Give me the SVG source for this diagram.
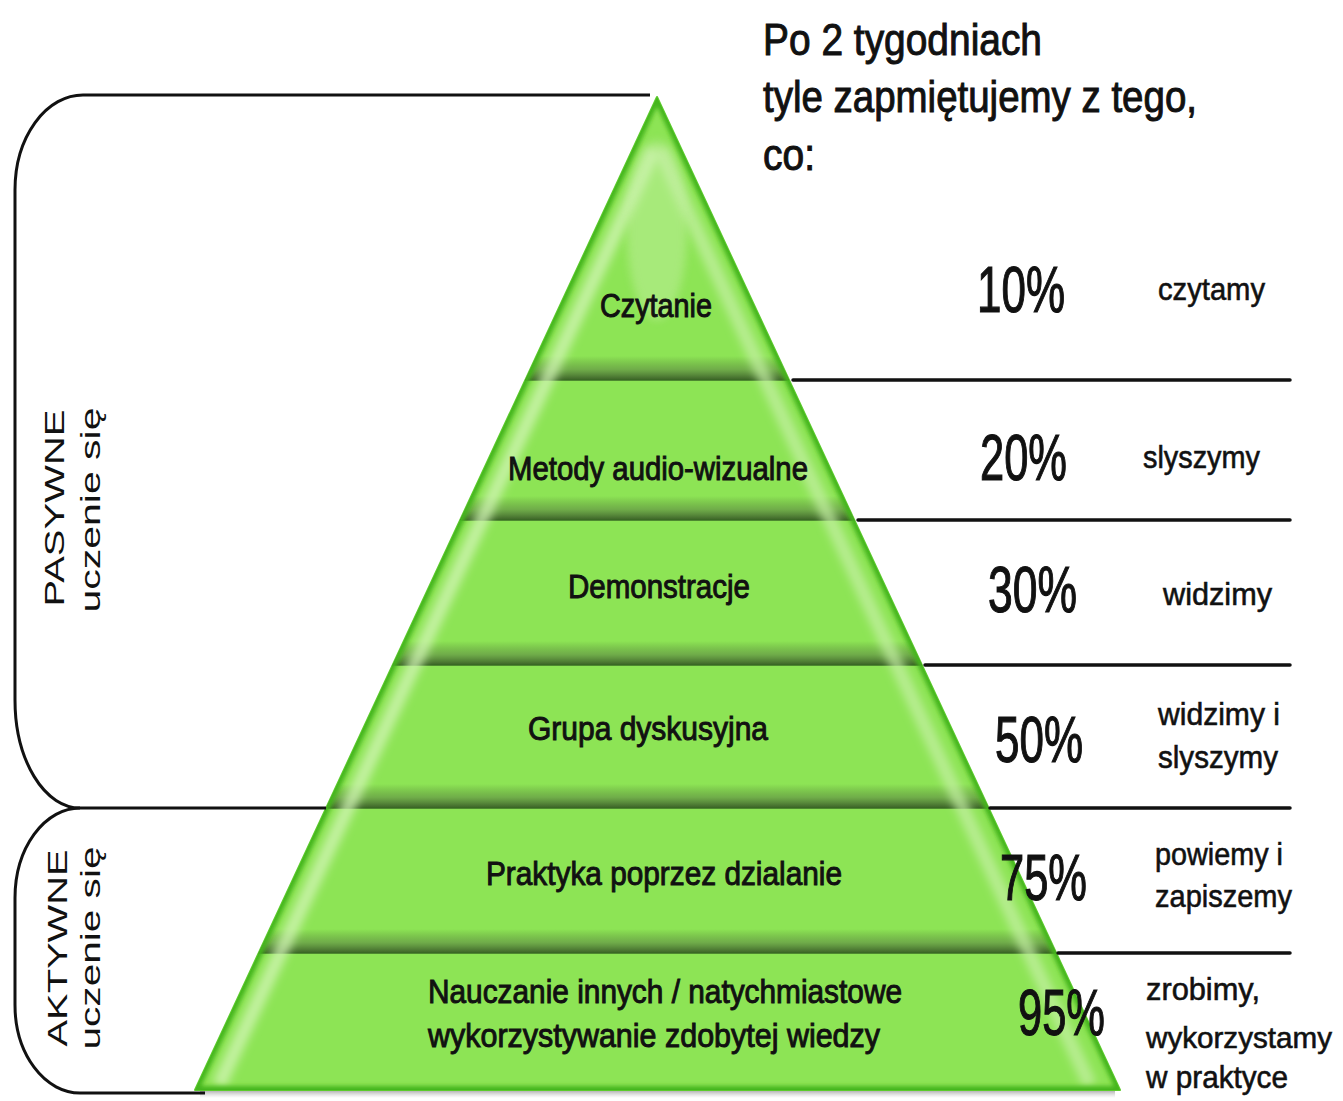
<svg xmlns="http://www.w3.org/2000/svg" width="1343" height="1101" viewBox="0 0 1343 1101">
  <style>
    .t { font-family: "Liberation Sans", Arial, sans-serif; fill: #111; }
    .lbl { font-size: 34px; stroke: #111; stroke-width: 1px; }
    .head { font-size: 44px; stroke: #111; stroke-width: 1px; }
    .pct { font-size: 64px; stroke: #111; stroke-width: 1.2px; }
    .word { font-size: 32px; stroke: #111; stroke-width: 0.6px; }
    .side { font-size: 27px; }
    .line { stroke: #111; stroke-width: 3.5; fill: none; stroke-linecap: round; }
    .brk { stroke: #111; stroke-width: 3; fill: none; }
  </style>
  <defs>
    <clipPath id="pyrClip">
      <path d="M657 97 L1120 1090 L195 1090 Z"/>
    </clipPath>
    <linearGradient id="bandShade" x1="0" y1="0" x2="0" y2="1">
      <stop offset="0" stop-color="#3c5a2a" stop-opacity="0"/>
      <stop offset="0.55" stop-color="#4d6b3c" stop-opacity="0.45"/>
      <stop offset="1" stop-color="#2c4a1e" stop-opacity="0.85"/>
    </linearGradient>
    <linearGradient id="shadow" x1="0" y1="0" x2="0" y2="1">
      <stop offset="0" stop-color="#777" stop-opacity="0.9"/>
      <stop offset="1" stop-color="#bbb" stop-opacity="0"/>
    </linearGradient>
    <filter id="blur4" x="-20%" y="-20%" width="140%" height="140%">
      <feGaussianBlur stdDeviation="4"/>
    </filter>
    <filter id="blur2" x="-20%" y="-20%" width="140%" height="140%">
      <feGaussianBlur stdDeviation="2"/>
    </filter>
  </defs>

  <rect width="1343" height="1101" fill="#ffffff"/>

  <!-- shadow under base -->
  <rect x="200" y="1088" width="915" height="10" fill="url(#shadow)"/>

  <!-- pyramid body -->
  <g id="pyramid">
    <path d="M657 97 L1120 1090 L195 1090 Z" fill="#8de455" stroke="#5ccb2c" stroke-width="2" stroke-linejoin="round"/>
    <g clip-path="url(#pyrClip)">
      <rect x="150" y="356" width="1000" height="24" fill="url(#bandShade)"/>
      <rect x="150" y="496" width="1000" height="24" fill="url(#bandShade)"/>
      <rect x="150" y="641" width="1000" height="24" fill="url(#bandShade)"/>
      <rect x="150" y="784" width="1000" height="24" fill="url(#bandShade)"/>
      <rect x="150" y="929" width="1000" height="24" fill="url(#bandShade)"/>
      <g stroke="#3a6a25" stroke-width="1.5">
        <line x1="150" y1="380" x2="1150" y2="380"/>
        <line x1="150" y1="520" x2="1150" y2="520"/>
        <line x1="150" y1="665" x2="1150" y2="665"/>
        <line x1="150" y1="808" x2="1150" y2="808"/>
        <line x1="150" y1="953" x2="1150" y2="953"/>
      </g>
      <line x1="654" y1="150" x2="219" y2="1085" stroke="#d4f5b8" stroke-width="14" stroke-opacity="0.75" filter="url(#blur4)"/>
      <line x1="660" y1="150" x2="1090" y2="1085" stroke="#c8f1a8" stroke-width="14" stroke-opacity="0.7" filter="url(#blur4)"/>
      <ellipse cx="657" cy="230" rx="30" ry="90" fill="#c8f1a8" opacity="0.45" filter="url(#blur4)"/>
      <path d="M657 97 L1120 1090 L195 1090 Z" fill="none" stroke="#45b51c" stroke-width="8" stroke-linejoin="round" filter="url(#blur2)"/>
    </g>
  </g>

  <!-- connectors: separator lines and brackets -->
  <g id="connectors">
    <line class="line" x1="793" y1="380" x2="1290" y2="380"/>
    <line class="line" x1="858" y1="520" x2="1290" y2="520"/>
    <line class="line" x1="925" y1="665" x2="1290" y2="665"/>
    <line class="line" x1="990" y1="808" x2="1290" y2="808"/>
    <line class="line" x1="1058" y1="953" x2="1290" y2="953"/>
    <path class="brk" d="M650 95 L83 95 A68 95 0 0 0 15 190 L15 700 A65 108 0 0 0 80 808 L326 808"/>
    <path class="brk" d="M80 808 A65 90 0 0 0 15 898 L15 1005 A65 88 0 0 0 80 1093 L205 1093"/>
  </g>

  <!-- heading -->
  <g id="heading">
    <text class="t head" x="763" y="55" textLength="279" lengthAdjust="spacingAndGlyphs">Po 2 tygodniach</text>
    <text class="t head" x="763" y="112" textLength="434" lengthAdjust="spacingAndGlyphs">tyle zapmiętujemy z tego,</text>
    <text class="t head" x="763" y="170" textLength="52" lengthAdjust="spacingAndGlyphs">co:</text>
  </g>

  <!-- side labels -->
  <g id="pasywne">
    <text class="t side" transform="translate(64 508) rotate(-90)" text-anchor="middle" textLength="197" lengthAdjust="spacingAndGlyphs">PASYWNE</text>
    <text class="t side" transform="translate(100 510) rotate(-90)" text-anchor="middle" textLength="205" lengthAdjust="spacingAndGlyphs">uczenie się</text>
  </g>
  <g id="aktywne">
    <text class="t side" transform="translate(67 948) rotate(-90)" text-anchor="middle" textLength="197" lengthAdjust="spacingAndGlyphs">AKTYWNE</text>
    <text class="t side" transform="translate(100 948) rotate(-90)" text-anchor="middle" textLength="203" lengthAdjust="spacingAndGlyphs">uczenie się</text>
  </g>

  <!-- levels -->
  <g id="level1">
    <text class="t lbl" x="600" y="317" textLength="112" lengthAdjust="spacingAndGlyphs">Czytanie</text>
    <text class="t pct" x="977" y="312" textLength="88" lengthAdjust="spacingAndGlyphs">10%</text>
    <text class="t word" x="1158" y="300" textLength="107" lengthAdjust="spacingAndGlyphs">czytamy</text>
  </g>
  <g id="level2">
    <text class="t lbl" x="508" y="480" textLength="300" lengthAdjust="spacingAndGlyphs">Metody audio-wizualne</text>
    <text class="t pct" x="980" y="480" textLength="87" lengthAdjust="spacingAndGlyphs">20%</text>
    <text class="t word" x="1143" y="468" textLength="117" lengthAdjust="spacingAndGlyphs">slyszymy</text>
  </g>
  <g id="level3">
    <text class="t lbl" x="568" y="598" textLength="182" lengthAdjust="spacingAndGlyphs">Demonstracje</text>
    <text class="t pct" x="988" y="612" textLength="89" lengthAdjust="spacingAndGlyphs">30%</text>
    <text class="t word" x="1163" y="605" textLength="109" lengthAdjust="spacingAndGlyphs">widzimy</text>
  </g>
  <g id="level4">
    <text class="t lbl" x="528" y="740" textLength="240" lengthAdjust="spacingAndGlyphs">Grupa dyskusyjna</text>
    <text class="t pct" x="995" y="762" textLength="88" lengthAdjust="spacingAndGlyphs">50%</text>
    <text class="t word" x="1158" y="725" textLength="122" lengthAdjust="spacingAndGlyphs">widzimy i</text>
    <text class="t word" x="1158" y="768" textLength="120" lengthAdjust="spacingAndGlyphs">slyszymy</text>
  </g>
  <g id="level5">
    <text class="t lbl" x="486" y="885" textLength="356" lengthAdjust="spacingAndGlyphs">Praktyka poprzez dzialanie</text>
    <text class="t pct" x="1000" y="900" textLength="87" lengthAdjust="spacingAndGlyphs">75%</text>
    <text class="t word" x="1155" y="865" textLength="128" lengthAdjust="spacingAndGlyphs">powiemy i</text>
    <text class="t word" x="1155" y="907" textLength="137" lengthAdjust="spacingAndGlyphs">zapiszemy</text>
  </g>
  <g id="level6">
    <text class="t lbl" x="428" y="1003" textLength="474" lengthAdjust="spacingAndGlyphs">Nauczanie innych / natychmiastowe</text>
    <text class="t lbl" x="428" y="1047" textLength="452" lengthAdjust="spacingAndGlyphs">wykorzystywanie zdobytej wiedzy</text>
    <text class="t pct" x="1018" y="1035" textLength="87" lengthAdjust="spacingAndGlyphs">95%</text>
    <text class="t word" x="1146" y="1000" textLength="114" lengthAdjust="spacingAndGlyphs">zrobimy,</text>
    <text class="t word" x="1146" y="1048" style="font-size:30px" textLength="186" lengthAdjust="spacingAndGlyphs">wykorzystamy</text>
    <text class="t word" x="1146" y="1088" textLength="142" lengthAdjust="spacingAndGlyphs">w praktyce</text>
  </g>
</svg>
